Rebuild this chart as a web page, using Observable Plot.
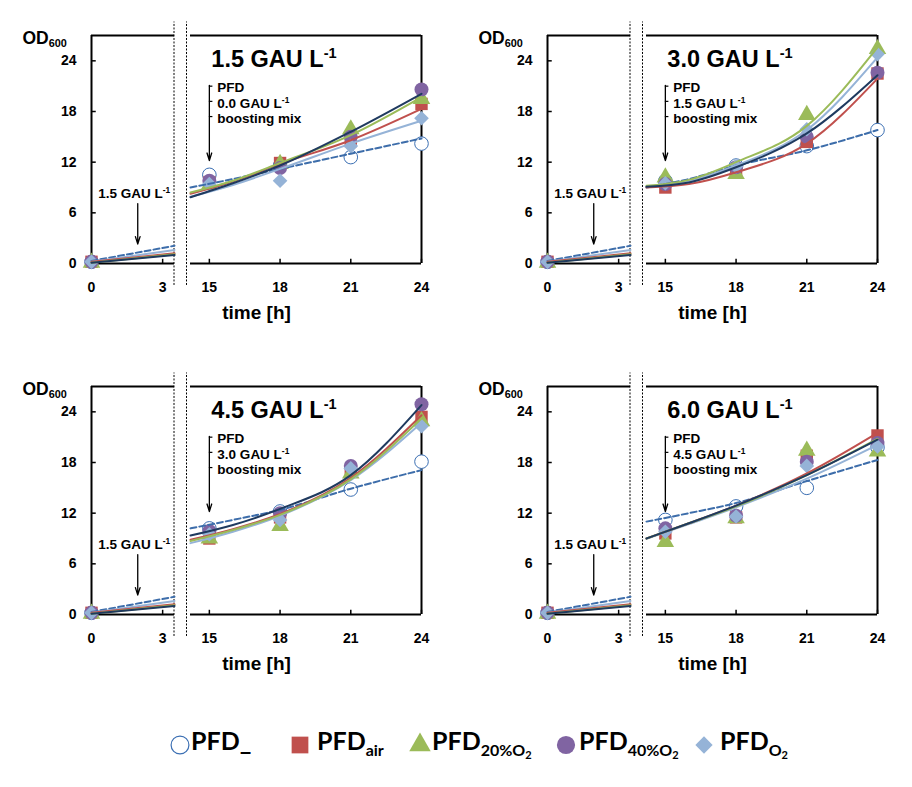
<!DOCTYPE html>
<html>
<head>
<meta charset="utf-8">
<script src="https://cdn.jsdelivr.net/npm/d3@7"></script>
<script src="https://cdn.jsdelivr.net/npm/@observablehq/plot@0.6"></script>
<style>
  html, body { margin: 0; padding: 0; background: #fff; }
  body { width: 912px; height: 787px; position: relative; overflow: hidden; font-family: "Liberation Sans", Arial, sans-serif; }
  .panel { position: absolute; width: 456px; height: 350px; }
  .panel svg { overflow: visible; }
  #legend { position: absolute; left: 0; top: 722px; width: 912px; height: 50px; font-family: Lato, "Liberation Sans", sans-serif; font-weight: 700; color: #000; }
  .sym { position: absolute; top: 9px; }
  .lab { position: absolute; top: 3px; font-size: 25px; line-height: 30px; white-space: nowrap; }
  .lab sub { font-size: 16px; vertical-align: -6px; line-height: 0; }
  .lab sub sub { font-size: 11px; vertical-align: -3px; }
</style>
</head>
<body>
<div id="p0" class="panel" style="left:0;top:0"></div>
<div id="p1" class="panel" style="left:456px;top:0"></div>
<div id="p2" class="panel" style="left:0;top:351px"></div>
<div id="p3" class="panel" style="left:456px;top:351px"></div>
<div id="legend"></div>
<script>
// ---------------- data ----------------
const times = [0, 15, 18, 21, 24];
const fitTimes = [0, 3.5, 14.2, 16, 18, 21, 24];
const seriesNames = ["PFD_", "PFDair", "PFD20%O2", "PFD40%O2", "PFDO2"];
const legendLabels = ["PFD_", "PFD<sub>air</sub>", "PFD<sub>20%O<sub>2</sub></sub>", "PFD<sub>40%O<sub>2</sub></sub>", "PFD<sub>O<sub>2</sub></sub>"];
const panelDoses = ["1.5", "3.0", "4.5", "6.0"];
const boostDoses = ["0.0", "1.5", "3.0", "4.5"];
const startDose = "1.5";
const yTicks = [0, 6, 12, 18, 24];
const xTicks = [0, 3, 15, 18, 21, 24];

// measured OD600 (rows follow seriesNames, columns follow times)
const obs1_5 = [
  [0.2, 10.5, 11.6, 12.6, 14.2],
  [0.2, 9.6, 11.9, 14.5, 18.9],
  [0.1, 9.3, 11.8, 15.9, 19.5],
  [0.2, 9.8, 11.3, 15.0, 20.6],
  [0.2, 9.4, 9.8, 13.9, 17.2]
];
const obs3_0 = [
  [0.2, 9.8, 11.6, 13.9, 15.8],
  [0.2, 9.0, 10.9, 14.4, 22.5],
  [0.1, 10.2, 10.6, 17.6, 25.4],
  [0.2, 9.4, 11.4, 15.0, 22.6],
  [0.2, 9.5, 11.5, 15.9, 24.8]
];
const obs4_5 = [
  [0.2, 10.2, 12.2, 14.8, 18.1],
  [0.2, 9.0, 11.5, 16.9, 23.4],
  [0.1, 9.0, 10.5, 16.7, 22.9],
  [0.2, 9.9, 12.0, 17.6, 24.9],
  [0.2, 9.5, 11.2, 17.3, 22.3]
];
const obs6_0 = [
  [0.2, 11.2, 12.8, 15.0, 19.8],
  [0.2, 9.6, 11.5, 18.8, 21.2],
  [0.1, 8.6, 11.4, 19.4, 19.3],
  [0.2, 10.2, 11.7, 18.1, 20.3],
  [0.2, 9.8, 11.6, 17.6, 19.9]
];
// trend lines (columns follow fitTimes)
const fit1_5 = [
  [0.3, 2.1, 9.0, 10.0, 11.2, 13.0, 14.8],
  [0.2, 1.2, 8.25, 9.7, 11.8, 14.6, 18.3],
  [0.1, 1.1, 8.4, 9.8, 11.9, 15.2, 19.7],
  [0.1, 1.0, 7.85, 9.5, 11.6, 15.6, 20.1],
  [0.2, 1.6, 7.9, 9.3, 11.2, 14.2, 16.9]
];
const fit3_0 = [
  [0.3, 2.1, 9.0, 10.0, 11.6, 13.4, 15.8],
  [0.2, 1.2, 9.0, 9.4, 10.8, 14.2, 21.9],
  [0.1, 1.1, 9.2, 9.9, 12.0, 16.3, 25.6],
  [0.1, 1.0, 9.1, 9.6, 11.4, 15.4, 22.3],
  [0.2, 1.6, 9.1, 9.75, 11.6, 15.8, 24.4]
];
const fit4_5 = [
  [0.3, 2.1, 10.2, 11.2, 12.4, 14.9, 17.1],
  [0.2, 1.2, 8.85, 10.1, 11.9, 16.2, 23.6],
  [0.1, 1.1, 8.7, 10.0, 11.8, 16.0, 23.2],
  [0.1, 1.0, 9.35, 10.6, 12.5, 16.5, 24.8],
  [0.2, 1.6, 8.45, 9.8, 11.7, 15.9, 22.7]
];
const fit6_0 = [
  [0.3, 2.1, 11.0, 12.0, 13.2, 15.8, 18.3],
  [0.2, 1.2, 9.0, 10.8, 12.9, 16.7, 21.5],
  [0.1, 1.1, 9.0, 10.8, 12.8, 16.5, 20.8],
  [0.1, 1.0, 9.0, 10.8, 12.9, 16.5, 20.7],
  [0.2, 1.6, 8.95, 10.7, 12.7, 16.1, 20.1]
];
const observations = [obs1_5, obs3_0, obs4_5, obs6_0];
const fits = [fit1_5, fit3_0, fit4_5, fit6_0];

// ---------------- styles ----------------
const markerStyle = {
  "PFD_":     {symbol: "circle",   fill: "white",   stroke: "#3B6FB3", strokeWidth: 1, r: 6.8},
  "PFDair":   {symbol: "square",   fill: "#C0504D", stroke: "none", r: 7},
  "PFD20%O2": {symbol: "triangle", fill: "#9BBB59", stroke: "none", r: 6.5},
  "PFD40%O2": {symbol: "circle",   fill: "#8064A2", stroke: "none", r: 7},
  "PFDO2":    {symbol: "diamond2", fill: "#95B3D7", stroke: "none", r: 6.6}
};
const lineStyle = {
  "PFD_":     {stroke: "#3D6DAA", strokeDasharray: "6,3"},
  "PFDair":   {stroke: "#C0504D"},
  "PFD20%O2": {stroke: "#9BBB59"},
  "PFD40%O2": {stroke: "#1F3A5F"},
  "PFDO2":    {stroke: "#95B3D7"}
};
const lineOrder = ["PFD_", "PFDO2", "PFDair", "PFD20%O2", "PFD40%O2"];

// ---------------- helpers ----------------
function richify(svg) {
  svg.querySelectorAll("text, tspan").forEach(el => {
    if (el.children.length) return;
    const s = el.textContent;
    if (!/[\^_]\{/.test(s)) return;
    el.textContent = "";
    const re = /([\^_])\{([^}]*)\}/g;
    let last = 0, m;
    while ((m = re.exec(s))) {
      if (m.index > last) el.appendChild(document.createTextNode(s.slice(last, m.index)));
      const t = document.createElementNS("http://www.w3.org/2000/svg", "tspan");
      t.style.fontSize = "0.62em";
      t.setAttribute("baseline-shift", m[1] === "^" ? "0.6em" : "-0.25em");
      t.textContent = m[2];
      el.appendChild(t);
      last = re.lastIndex;
    }
    if (last < s.length) el.appendChild(document.createTextNode(s.slice(last)));
  });
}

function drawPanel(p) {
  const pts = [];
  seriesNames.forEach((s, i) => times.forEach((t, j) => pts.push({series: s, t, od: observations[p][i][j]})));
  const lines = [];
  seriesNames.forEach((s, i) => fitTimes.forEach((t, j) => lines.push({series: s, seg: t < 10 ? "early" : "late", t, od: fits[p][i][j]})));
  const segments = [{a: 0, b: 3.5}, {a: 14.2, b: 24}];
  const frameH = segments.flatMap(d => [{...d, y: 0}, {...d, y: 27}]);

  const marks = [];
  // broken-axis frame
  marks.push(Plot.ruleY(frameH, {x1: "a", x2: "b", y: "y", stroke: "black", strokeWidth: 2}));
  marks.push(Plot.ruleX([0, 24], {x: d => d, y1: 0, y2: 27, stroke: "black", strokeWidth: 2}));
  // axis break dotted lines
  marks.push(Plot.ruleX([3.5], {x: d => d, y1: -2.6, y2: 28.6, dx: -0.5, stroke: "black", strokeWidth: 1, strokeDasharray: "2,1.5"}));
  marks.push(Plot.ruleX([3.5], {x: d => d, y1: -2.6, y2: 28.6, dx: 12, stroke: "black", strokeWidth: 1, strokeDasharray: "2,1.5"}));
  // inward ticks
  marks.push(Plot.ruleY(yTicks.slice(1), {y: d => d, x1: 0, x2: 0.2, stroke: "black", strokeWidth: 1.5}));
  marks.push(Plot.ruleX(xTicks.slice(1), {x: d => d, y1: 0, y2: 0.5, stroke: "black", strokeWidth: 1.5}));
  // axes
  marks.push(Plot.axisY({ticks: yTicks, tickSize: 0, tickPadding: 15, fontSize: 14, fontWeight: "bold", label: null}));
  marks.push(Plot.axisX({ticks: xTicks, tickSize: 0, tickPadding: 19, fontSize: 14, fontWeight: "bold", label: null}));
  // markers
  seriesNames.forEach(s => {
    const st = markerStyle[s];
    marks.push(Plot.dot(pts.filter(d => d.series === s), {x: "t", y: "od", ...st}));
  });
  // trend lines
  lineOrder.forEach(s => {
    const st = lineStyle[s];
    marks.push(Plot.line(lines.filter(d => d.series === s), {x: "t", y: "od", z: "seg", strokeWidth: 2, curve: "monotone-x", ...st}));
  });
  // labels
  marks.push(Plot.text(["OD_{600}"], {x: 0, y: 27, text: d => d, textAnchor: "start", lineAnchor: "bottom", dx: -69, dy: 8, fontSize: 17.5, fontWeight: "bold"}));
  marks.push(Plot.text(["time [h]"], {frameAnchor: "bottom", text: d => d, dy: 55, fontSize: 19, fontWeight: "bold"}));
  marks.push(Plot.text([`${panelDoses[p]} GAU L^{-1}`], {x: 15, y: 27, text: d => d, textAnchor: "start", lineAnchor: "bottom", dx: 2, dy: 31, fontSize: 23.5, fontWeight: "bold"}));
  // boosting annotation
  marks.push(Plot.text([`PFD\n${boostDoses[p]} GAU L^{-1}\nboosting mix`], {x: 15, y: 27, text: d => d, textAnchor: "start", lineAnchor: "top", dx: 8, dy: 46, lineHeight: 1.13, fontSize: 13.5, fontWeight: "bold"}));
  marks.push(Plot.ruleY([21.0, 19.2, 17.4], {y: d => d, x1: 15, x2: 15.15, stroke: "black", strokeWidth: 1.2}));
  marks.push(Plot.arrow([0], {x1: 15, x2: 15, y1: 21.1, y2: 12.2, stroke: "black", strokeWidth: 1.3, headLength: 9, headAngle: 35}));
  // starting dose annotation
  marks.push(Plot.text([`${startDose} GAU L^{-1}`], {x: 1.8, y: 8.3, text: d => d, fontSize: 13.5, fontWeight: "bold"}));
  marks.push(Plot.arrow([0], {x1: 1.95, x2: 1.95, y1: 7.1, y2: 2.3, stroke: "black", strokeWidth: 1.3, headLength: 9, headAngle: 35}));

  const svg = Plot.plot({
    width: 456,
    height: 350,
    marginLeft: 91,
    marginRight: 35,
    marginTop: 35,
    marginBottom: 87,
    x: {type: "linear", domain: [0, 3.5, 14.2, 24], range: [91, 174, 190, 421]},
    y: {type: "linear", domain: [0, 27], range: [263, 35]},
    style: {fontFamily: "'Liberation Sans', Arial, sans-serif", background: "transparent", overflow: "visible", color: "black"},
    marks
  });
  richify(svg);
  document.getElementById("p" + p).appendChild(svg);
}

[0, 1, 2, 3].forEach(drawPanel);

// ---------------- legend ----------------
const legend = document.getElementById("legend");
const symCenters = [180, 300, 420, 566, 704];
const labStarts = [191, 317, 432, 579, 720];
const symMap = {circle: d3.symbolCircle, square: d3.symbolSquare, triangle: d3.symbolTriangle, diamond2: d3.symbolDiamond2};
const legendSizes = {"PFD_": 250, "PFDair": 280, "PFD20%O2": 200, "PFD40%O2": 260, "PFDO2": 190};
seriesNames.forEach((s, i) => {
  const st = markerStyle[s];
  const ns = "http://www.w3.org/2000/svg";
  const sv = document.createElementNS(ns, "svg");
  sv.setAttribute("width", 28); sv.setAttribute("height", 28);
  sv.setAttribute("class", "sym");
  sv.style.left = (symCenters[i] - 14) + "px";
  const path = document.createElementNS(ns, "path");
  path.setAttribute("d", d3.symbol(symMap[st.symbol], legendSizes[s])());
  path.setAttribute("transform", "translate(14,14)");
  path.setAttribute("fill", st.fill);
  path.setAttribute("stroke", st.stroke);
  path.setAttribute("stroke-width", 1.2);
  sv.appendChild(path);
  legend.appendChild(sv);
  const lab = document.createElement("div");
  lab.className = "lab";
  lab.style.left = labStarts[i] + "px";
  lab.innerHTML = legendLabels[i];
  legend.appendChild(lab);
});
</script>
</body>
</html>
